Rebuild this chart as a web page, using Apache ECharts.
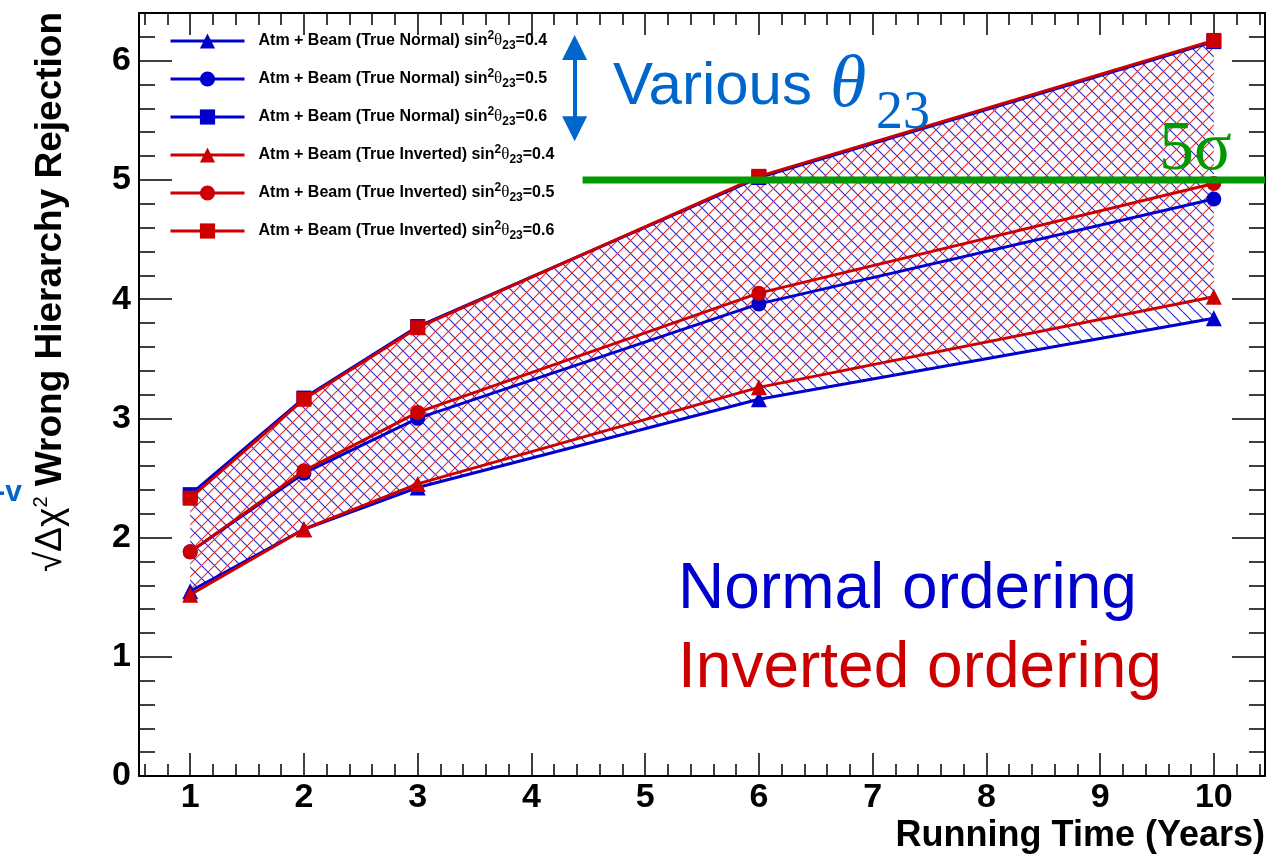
<!DOCTYPE html>
<html>
<head>
<meta charset="utf-8">
<script src="https://cdn.jsdelivr.net/npm/echarts@6/dist/echarts.min.js"></script>
<style>
  html, body { margin: 0; padding: 0; background: #ffffff; }
  #chart { width: 1286px; height: 857px; }
</style>
</head>
<body>
<div id="chart"></div>
<script>
// Running time (years) at which the sensitivity is evaluated
const years = [1, 2, 3, 6, 10];

// sqrt(Δχ²) for rejecting the wrong mass hierarchy, true normal ordering
const normal04 = [1.55, 2.07, 2.42, 3.16, 3.84];
const normal05 = [1.88, 2.54, 3.00, 3.96, 4.84];
const normal06 = [2.36, 3.17, 3.77, 5.02, 6.16];

// Same, true inverted ordering
const inverted04 = [1.52, 2.07, 2.45, 3.26, 4.02];
const inverted05 = [1.88, 2.56, 3.05, 4.05, 4.97];
const inverted06 = [2.33, 3.16, 3.76, 5.03, 6.17];

// Tick labels
const xTickLabels = [1, 2, 3, 4, 5, 6, 7, 8, 9, 10];
const yTickLabels = [0, 1, 2, 3, 4, 5, 6];

// 5 sigma reference level and where its line starts
const fiveSigma = 5;
const fiveSigmaStart = 4.45;

// Axis ranges
const xMin = 0.55, xMax = 10.45;
const yMin = 0, yMax = 6.4;

// Minor ticks every 0.2 between the labelled ticks
function minorTicks(lo, hi) {
  const out = [];
  for (let k = Math.ceil(lo * 5 + 1e-9); k <= Math.floor(hi * 5 - 1e-9); k++) {
    if (k % 5 !== 0) out.push(+(k / 5).toFixed(2));
  }
  return out;
}
const xMinor = minorTicks(xMin, xMax);
const yMinor = minorTicks(yMin, yMax);

const BLUE = '#0000cc';
const RED = '#cc0000';
const GREEN = '#009900';
const SKY = '#0066cc';
const SANS = '"Liberation Sans", Arial, Helvetica, sans-serif';
const SERIF = '"Liberation Serif", "Times New Roman", serif';

// Diagonal hatch tiles: '\' for normal ordering, '/' for inverted ordering
function hatch(color, backslash) {
  const s = 13;
  const c = document.createElement('canvas');
  c.width = s; c.height = s;
  const ctx = c.getContext('2d');
  ctx.strokeStyle = color;
  ctx.lineWidth = 1.1;
  ctx.beginPath();
  for (const k of [-s, 0, s]) {
    if (backslash) { ctx.moveTo(k, 0); ctx.lineTo(k + s, s); }
    else { ctx.moveTo(k, s); ctx.lineTo(k + s, 0); }
  }
  ctx.stroke();
  return { image: c, repeat: 'repeat' };
}

function bandSeries(lower, upper, fill, z) {
  return {
    type: 'custom',
    coordinateSystem: 'cartesian2d',
    xAxisIndex: 0, yAxisIndex: 0,
    z: z, silent: true,
    data: [[years[0], lower[0]]],
    renderItem: function (params, api) {
      const top = upper.map((v, i) => api.coord([years[i], v]));
      const bottom = lower.map((v, i) => api.coord([years[i], v])).reverse();
      return {
        type: 'polygon',
        shape: { points: top.concat(bottom) },
        style: { fill: fill, stroke: null }
      };
    }
  };
}

const legendText = (ord, s) => `Atm + Beam (True ${ord}) sin{sup|2}{th|θ}{sub|23}=${s}`;

function lineSeries(name, values, color, symbol, z) {
  return {
    type: 'line',
    name: name,
    xAxisIndex: 0, yAxisIndex: 0,
    z: z,
    data: years.map((x, i) => [x, values[i]]),
    symbol: symbol,
    symbolSize: symbol === 'triangle' ? 16 : 15,
    showSymbol: true,
    lineStyle: { color: color, width: 3 },
    itemStyle: { color: color },
    emphasis: { disabled: true },
    silent: true
  };
}

const names = [
  legendText('Normal', '0.4'), legendText('Normal', '0.5'), legendText('Normal', '0.6'),
  legendText('Inverted', '0.4'), legendText('Inverted', '0.5'), legendText('Inverted', '0.6')
];

const tickLine = { color: '#000', width: 1.5 };
function xAxisDef(position, ticks, len, labels, line) {
  return {
    type: 'value', position: position, min: xMin, max: xMax,
    axisLine: { show: line, onZero: false, lineStyle: { color: '#000', width: 2 } },
    axisTick: { show: true, inside: true, length: len, customValues: ticks, lineStyle: tickLine },
    axisLabel: labels ? {
      show: true, customValues: xTickLabels, color: '#000', fontFamily: SANS,
      fontWeight: 'bold', fontSize: 34, margin: 5
    } : { show: false },
    splitLine: { show: false }
  };
}
function yAxisDef(position, ticks, len, labels, line) {
  return {
    type: 'value', position: position, min: yMin, max: yMax,
    axisLine: { show: line, onZero: false, lineStyle: { color: '#000', width: 2 } },
    axisTick: { show: true, inside: true, length: len, customValues: ticks, lineStyle: tickLine },
    axisLabel: labels ? {
      show: true, customValues: yTickLabels, color: '#000', fontFamily: SANS,
      fontWeight: 'bold', fontSize: 34, margin: 8
    } : { show: false },
    splitLine: { show: false }
  };
}

const chart = echarts.init(document.getElementById('chart'), null, { renderer: 'canvas' });

chart.setOption({
  animation: false,
  backgroundColor: '#ffffff',
  grid: { left: 139, right: 21, top: 13, bottom: 81, containLabel: false, outerBoundsMode: 'none' },
  xAxis: [
    xAxisDef('bottom', xTickLabels, 23, true, true),
    xAxisDef('bottom', xMinor, 12, false, false),
    xAxisDef('top', xTickLabels, 22, false, true),
    xAxisDef('top', xMinor, 12, false, false)
  ],
  yAxis: [
    yAxisDef('left', yTickLabels, 33, true, true),
    yAxisDef('left', yMinor, 16, false, false),
    yAxisDef('right', yTickLabels, 33, false, true),
    yAxisDef('right', yMinor, 16, false, false)
  ],
  legend: {
    data: names,
    orient: 'vertical',
    left: 169, top: 30,
    padding: 0,
    itemWidth: 74, itemHeight: 19, itemGap: 16,
    selectedMode: false,
    lineStyle: { width: 3 },
    textStyle: {
      color: '#000', fontFamily: SANS, fontWeight: 'bold', fontSize: 16,
      lineHeight: 22, padding: [0, 0, 0, 9],
      rich: {
        sup: { fontSize: 12, fontWeight: 'bold', fontFamily: SANS, lineHeight: 12, verticalAlign: 'top', color: '#000' },
        sub: { fontSize: 12, fontWeight: 'bold', fontFamily: SANS, lineHeight: 12, verticalAlign: 'bottom', color: '#000' },
        th: { fontSize: 17, fontWeight: 'normal', fontFamily: SERIF, lineHeight: 22, color: '#000' }
      }
    }
  },
  series: [
    bandSeries(normal04, normal06, hatch('#2626d0', true), 1),
    bandSeries(inverted04, inverted06, hatch('#ee2a2a', false), 1),
    lineSeries(names[0], normal04, BLUE, 'triangle', 3),
    lineSeries(names[1], normal05, BLUE, 'circle', 3),
    lineSeries(names[2], normal06, BLUE, 'rect', 3),
    lineSeries(names[3], inverted04, RED, 'triangle', 4),
    lineSeries(names[4], inverted05, RED, 'circle', 4),
    lineSeries(names[5], inverted06, RED, 'rect', 4),
    {
      // 5σ discovery level plus the θ23 range indicator
      type: 'line', name: '5σ', z: 6, silent: true,
      xAxisIndex: 0, yAxisIndex: 0,
      data: [[fiveSigmaStart, fiveSigma], [xMax, fiveSigma]],
      symbol: 'none',
      lineStyle: { color: GREEN, width: 7 },
      markLine: {
        silent: true,
        symbol: ['triangle', 'triangle'],
        symbolSize: [25, 25],
        label: { show: false },
        lineStyle: { color: SKY, width: 4, type: 'solid' },
        data: [[{ coord: [4.38, 6.11] }, { coord: [4.38, 5.43] }]]
      }
    }
  ],
  graphic: [
    {
      type: 'text', x: 51, y: 292, rotation: Math.PI / 2, z: 10,
      style: {
        text: '{r|√Δχ}{s|2}{b| Wrong Hierarchy Rejection}',
        align: 'center', verticalAlign: 'middle',
        rich: {
          r: { fontFamily: SANS, fontSize: 37, fontWeight: 'normal', color: '#000', lineHeight: 40 },
          s: { fontFamily: SANS, fontSize: 20, fontWeight: 'normal', color: '#000', lineHeight: 20, verticalAlign: 'top' },
          b: { fontFamily: SANS, fontSize: 37, fontWeight: 'bold', color: '#000', lineHeight: 40 }
        }
      }
    },
    {
      type: 'text', x: 1265, y: 836, z: 10,
      style: {
        text: 'Running Time (Years)', align: 'right', verticalAlign: 'middle',
        fontFamily: SANS, fontSize: 36, fontWeight: 'bold', fill: '#000'
      }
    },
    {
      type: 'text', x: 22, y: 493, z: 10,
      style: {
        text: '-v', align: 'right', verticalAlign: 'middle',
        fontFamily: SANS, fontSize: 30, fontWeight: 'bold', fill: SKY
      }
    },
    {
      type: 'text', x: 613, y: 87, z: 10,
      style: {
        text: 'Various', align: 'left', verticalAlign: 'middle',
        fontFamily: SANS, fontSize: 60, fill: SKY
      }
    },
    {
      type: 'text', x: 830, y: 87, z: 10,
      style: {
        text: 'θ', align: 'left', verticalAlign: 'middle',
        fontFamily: SERIF, fontStyle: 'italic', fontSize: 74, fill: SKY
      }
    },
    {
      type: 'text', x: 876, y: 114, z: 10,
      style: {
        text: '23', align: 'left', verticalAlign: 'middle',
        fontFamily: SERIF, fontSize: 54, fill: SKY
      }
    },
    {
      type: 'text', x: 1159, y: 151, z: 10,
      style: {
        text: '5σ', align: 'left', verticalAlign: 'middle',
        fontFamily: SERIF, fontSize: 70, fill: GREEN
      }
    },
    {
      type: 'text', x: 678, y: 590, z: 10,
      style: {
        text: 'Normal ordering', align: 'left', verticalAlign: 'middle',
        fontFamily: SANS, fontSize: 64, fill: BLUE
      }
    },
    {
      type: 'text', x: 678, y: 669, z: 10,
      style: {
        text: 'Inverted ordering', align: 'left', verticalAlign: 'middle',
        fontFamily: SANS, fontSize: 64, fill: RED
      }
    }
  ]
});
</script>
</body>
</html>
